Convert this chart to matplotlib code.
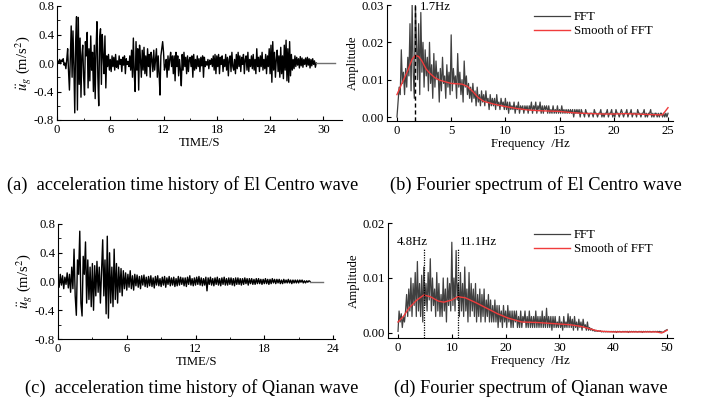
import numpy as np
import matplotlib
matplotlib.use('Agg')
from matplotlib import pyplot as plt

plt.rcParams['font.family'] = ['Liberation Serif', 'DejaVu Serif']
plt.rcParams['mathtext.fontset'] = 'stix'
plt.rcParams['font.size'] = 9.2
plt.rcParams['axes.unicode_minus'] = False
plt.rcParams['xtick.direction'] = 'in'
plt.rcParams['ytick.direction'] = 'in'

# El Centro acceleration (m/s^2), sampled every 0.1 s from 0 to 29.2 s, then a quiet tail
elc_dt = 0.1
elc_acc = [
    0.02, 0.03, 0.0, 0.05, -0.01, 0.04, 0.02, 0.06, -0.03, 0.0,
    -0.08, 0.05, 0.2, -0.12, -0.38, 0.1, 0.52, -0.2, 0.45, -0.05,
    -0.70, 0.3, 0.65, -0.66, 0.64, -0.3, 0.35, -0.48, 0.1, 0.25,
    -0.2, -0.45, 0.3, 0.1, 0.43, -0.35, 0.2, -0.25, 0.38, -0.1,
    0.15, -0.4, 0.25, -0.5, 0.2, 0.58, -0.2, -0.60, 0.35, 0.48,
    -0.3, 0.4, 0.1, -0.15, 0.38, -0.35, 0.1, -0.05, 0.12, -0.1,
    0.05, -0.12, 0.1, -0.05, 0.08, -0.1, 0.12, -0.06, 0.03, -0.08,
    0.1, -0.02, 0.05, -0.12, 0.08, -0.03, 0.1, -0.15, 0.06, -0.02,
    0.02, -0.05, 0.1, -0.1, 0.18, -0.2, 0.35, -0.15, -0.40, 0.3,
    -0.1, 0.2, -0.38, 0.25, 0.05, -0.2, 0.18, -0.1, 0.22, -0.15,
    0.1, -0.18, 0.2, -0.05, 0.12, -0.2, 0.15, 0.05, -0.12, 0.18,
    -0.1, 0.05, 0.2, -0.2, 0.1, -0.15, -0.45, 0.1, 0.2, 0.30,
    0.15, -0.1, -0.05, 0.05, -0.2, 0.1, -0.1, 0.05, 0.15, -0.05,
    0.1, -0.15, 0.1, -0.25, 0.15, -0.05, 0.1, -0.18, 0.05, -0.1,
    -0.32, 0.12, -0.1, 0.15, -0.05, 0.08, -0.15, 0.1, -0.12, 0.05,
    0.08, -0.05, 0.1, -0.2, 0.12, -0.1, 0.05, -0.08, 0.1, -0.05,
    0.06, -0.12, 0.08, -0.04, 0.1, -0.2, 0.08, -0.05, 0.02, -0.03,
    0.05, -0.08, 0.04, -0.02, 0.06, -0.05, 0.1, -0.1, 0.12, -0.15,
    0.1, -0.05, 0.12, -0.15, 0.08, -0.02, 0.1, -0.12, 0.05, -0.05,
    0.12, -0.1, 0.08, -0.18, 0.05, 0.1, -0.12, 0.15, -0.05, -0.1,
    0.05, -0.15, 0.12, -0.08, 0.15, -0.05, 0.1, -0.12, 0.08, -0.02,
    0.12, -0.15, 0.05, 0.1, -0.1, 0.15, -0.12, 0.05, -0.05, 0.1,
    -0.08, 0.12, -0.1, 0.05, -0.15, 0.2, -0.05, 0.08, -0.12, 0.1,
    -0.05, 0.15, -0.1, 0.05, -0.08, 0.12, -0.15, 0.1, -0.05, 0.2,
    -0.15, 0.25, -0.27, 0.3, -0.1, 0.15, -0.2, 0.05, 0.18, -0.12,
    0.1, -0.2, 0.22, -0.15, 0.1, -0.22, 0.25, -0.1, 0.32, -0.25,
    0.2, -0.27, 0.3, -0.18, 0.12, -0.1, 0.05, -0.08, 0.1, -0.05,
    0.08, -0.03, 0.06, -0.07, 0.09, -0.04, 0.07, -0.06, 0.05, -0.02,
    0.07, -0.05, 0.08, -0.03, 0.06, -0.07, 0.05, -0.04, 0.06, -0.02,
    0.03, -0.06, 0.0,
]
elc_end = 31.3

# Qianan acceleration (m/s^2), every 0.1 s from 0 to 22 s, then a quiet tail
qa_dt = 0.1
qa_acc = [
    0.05, -0.08, 0.1, -0.05, 0.08, -0.1, 0.06, -0.04, 0.12, -0.09,
    0.1, -0.15, 0.2, -0.1, 0.45, -0.2, -0.47, 0.3, 0.1, 0.70,
    -0.3, -0.48, 0.35, 0.1, 0.55, -0.3, 0.3, -0.25, 0.2, -0.35,
    0.25, -0.4, 0.22, -0.2, 0.28, -0.15, 0.2, -0.3, 0.15, 0.58,
    -0.2, 0.3, -0.45, 0.63, -0.51, 0.4, -0.3, 0.2, -0.35, 0.45,
    -0.25, 0.25, -0.3, 0.2, -0.15, 0.18, -0.2, 0.15, -0.1, 0.12,
    -0.12, 0.1, -0.08, 0.15, -0.1, 0.08, -0.12, 0.1, -0.06, 0.09,
    -0.08, 0.07, -0.1, 0.08, -0.05, 0.09, -0.07, 0.06, -0.08, 0.07,
    -0.06, 0.08, -0.07, 0.05, -0.09, 0.07, -0.05, 0.08, -0.06, 0.04,
    -0.07, 0.06, -0.05, 0.07, -0.08, 0.05, -0.04, 0.07, -0.06, 0.05,
    -0.05, 0.06, -0.07, 0.04, -0.06, 0.07, -0.05, 0.06, -0.04, 0.05,
    -0.06, 0.05, -0.07, 0.06, -0.04, 0.08, -0.05, 0.04, -0.06, 0.05,
    -0.05, 0.06, -0.04, 0.07, -0.05, 0.05, -0.06, 0.04, -0.05, 0.06,
    -0.13, 0.05, -0.04, 0.06, -0.05, 0.04, -0.06, 0.05, -0.04, 0.06,
    -0.05, 0.04, -0.06, 0.05, -0.04, 0.06, -0.05, 0.04, -0.05, 0.05,
    -0.04, 0.05, -0.05, 0.04, -0.06, 0.05, -0.04, 0.05, -0.04, 0.04,
    -0.05, 0.04, -0.04, 0.05, -0.03, 0.04, -0.05, 0.04, -0.03, 0.04,
    -0.04, 0.03, -0.04, 0.04, -0.03, 0.04, -0.03, 0.03, -0.04, 0.03,
    -0.03, 0.04, -0.03, 0.03, -0.04, 0.03, -0.03, 0.04, -0.02, 0.03,
    -0.03, 0.03, -0.02, 0.03, -0.03, 0.02, -0.03, 0.03, -0.02, 0.02,
    -0.02, 0.03, -0.02, 0.02, -0.03, 0.02, -0.02, 0.02, -0.02, 0.02,
    -0.02, 0.02, -0.01, 0.02, -0.02, 0.01, -0.02, 0.01, -0.01, 0.01,
    0.0,
]
qa_end = 23.1

# El Centro Fourier amplitude, every 0.1 Hz from 0 to 25 Hz
elc_df = 0.1
elc_fft = [
    0.000, 0.004, 0.008, 0.006, 0.018, 0.009, 0.012, 0.006, 0.013, 0.008,
    0.016, 0.011, 0.025, 0.007, 0.030, 0.012, 0.005, 0.030, 0.020, 0.010,
    0.025, 0.006, 0.028, 0.012, 0.020, 0.008, 0.018, 0.011, 0.016, 0.007,
    0.020, 0.009, 0.014, 0.005, 0.017, 0.008, 0.015, 0.010, 0.012, 0.004,
    0.013, 0.007, 0.016, 0.009, 0.011, 0.005, 0.014, 0.008, 0.012, 0.006,
    0.022, 0.007, 0.013, 0.009, 0.011, 0.005, 0.017, 0.008, 0.012, 0.006,
    0.010, 0.004, 0.015, 0.008, 0.011, 0.006, 0.009, 0.005, 0.008, 0.004,
    0.009, 0.005, 0.007, 0.003, 0.008, 0.004, 0.006, 0.003, 0.007, 0.004,
    0.006, 0.003, 0.007, 0.004, 0.005, 0.002, 0.006, 0.003, 0.005, 0.003,
    0.005, 0.002, 0.006, 0.003, 0.004, 0.002, 0.005, 0.003, 0.004, 0.002,
    0.005, 0.002, 0.004, 0.001, 0.004, 0.002, 0.003, 0.002, 0.004, 0.001,
    0.003, 0.002, 0.004, 0.001, 0.003, 0.002, 0.003, 0.001, 0.003, 0.002,
    0.003, 0.001, 0.003, 0.002, 0.004, 0.001, 0.003, 0.002, 0.004, 0.001,
    0.003, 0.002, 0.004, 0.001, 0.003, 0.001, 0.003, 0.002, 0.003, 0.001,
    0.003, 0.001, 0.002, 0.001, 0.003, 0.001, 0.002, 0.001, 0.003, 0.001,
    0.002, 0.001, 0.003, 0.001, 0.002, 0.001, 0.002, 0.001, 0.002, 0.001,
    0.002, 0.001, 0.002, 0.000, 0.002, 0.001, 0.002, 0.001, 0.002, 0.000,
    0.002, 0.001, 0.001, 0.000, 0.002, 0.001, 0.001, 0.000, 0.001, 0.001,
    0.001, 0.000, 0.002, 0.001, 0.001, 0.000, 0.001, 0.001, 0.002, 0.000,
    0.001, 0.000, 0.001, 0.001, 0.002, 0.000, 0.001, 0.001, 0.002, 0.000,
    0.001, 0.000, 0.002, 0.001, 0.001, 0.000, 0.001, 0.002, 0.001, 0.000,
    0.001, 0.001, 0.002, 0.000, 0.001, 0.001, 0.002, 0.000, 0.001, 0.001,
    0.001, 0.000, 0.002, 0.001, 0.001, 0.000, 0.001, 0.001, 0.002, 0.000,
    0.001, 0.000, 0.001, 0.001, 0.002, 0.000, 0.001, 0.000, 0.001, 0.001,
    0.000, 0.001, 0.000, 0.001, 0.001, 0.000, 0.001, 0.000, 0.001, 0.000,
    0.001,
]
elc_smooth_f = [0, 0.3, 1.0, 1.4, 1.7, 2.0, 2.3, 2.7, 3.0, 3.5, 4.0, 5.0, 6.0, 6.5,
                7.0, 7.5, 8.0, 9.0, 10, 11, 12, 13, 14, 15, 16, 17, 18, 19, 20,
                21, 22, 23, 24, 24.5, 25]
elc_smooth = [0.006, 0.008, 0.0125, 0.0155, 0.0165, 0.0162, 0.015, 0.0128, 0.0118,
              0.0105, 0.0098, 0.009, 0.0088, 0.0082, 0.0068, 0.0052, 0.0042, 0.0034,
              0.0028, 0.0023, 0.0019, 0.0017, 0.0016, 0.0015, 0.0012, 0.0010,
              0.0009, 0.0008, 0.0008, 0.0009, 0.0008, 0.0007, 0.0006, 0.0006, 0.0025]

# Qianan Fourier amplitude, every 0.2 Hz from 0 to 50 Hz
qa_df = 0.2
qa_fft = [
    0.0003, 0.004, 0.002, 0.0035, 0.001, 0.003, 0.002, 0.004, 0.007, 0.003,
    0.008, 0.004, 0.010, 0.003, 0.009, 0.005, 0.011, 0.003, 0.013, 0.004,
    0.009, 0.003, 0.0105, 0.002, 0.012, 0.005, 0.009, 0.004, 0.011, 0.006,
    0.0135, 0.004, 0.010, 0.005, 0.008, 0.003, 0.011, 0.004, 0.009, 0.003,
    0.007, 0.003, 0.010, 0.004, 0.008, 0.002, 0.010, 0.005, 0.009, 0.004,
    0.0165, 0.005, 0.010, 0.004, 0.015, 0.006, 0.009, 0.003, 0.011, 0.004,
    0.009, 0.003, 0.012, 0.004, 0.008, 0.002, 0.011, 0.003, 0.009, 0.004,
    0.008, 0.003, 0.009, 0.002, 0.007, 0.003, 0.008, 0.002, 0.007, 0.003,
    0.008, 0.002, 0.006, 0.003, 0.007, 0.002, 0.006, 0.002, 0.005, 0.002,
    0.006, 0.002, 0.005, 0.001, 0.005, 0.002, 0.004, 0.001, 0.005, 0.002,
    0.004, 0.001, 0.005, 0.002, 0.004, 0.001, 0.004, 0.001, 0.004, 0.002,
    0.004, 0.001, 0.003, 0.001, 0.004, 0.001, 0.003, 0.002, 0.004, 0.001,
    0.003, 0.001, 0.004, 0.001, 0.003, 0.001, 0.003, 0.001, 0.004, 0.001,
    0.003, 0.001, 0.003, 0.001, 0.004, 0.001, 0.003, 0.001, 0.0045, 0.001,
    0.003, 0.001, 0.003, 0.0005, 0.003, 0.001, 0.003, 0.001, 0.002, 0.001,
    0.003, 0.001, 0.002, 0.0005, 0.003, 0.001, 0.002, 0.001, 0.0035, 0.001,
    0.003, 0.001, 0.0025, 0.0005, 0.003, 0.001, 0.002, 0.0005, 0.0025, 0.001,
    0.002, 0.0005, 0.0025, 0.001, 0.0015, 0.0005, 0.002, 0.0005, 0.001, 0.0005,
    0.0008, 0.0004, 0.0006, 0.0003, 0.0005, 0.0003, 0.0004, 0.0003, 0.0004, 0.0002,
    0.0003, 0.0002, 0.0003, 0.0002, 0.0003, 0.0002, 0.0003, 0.0002, 0.0003, 0.0002,
    0.0003, 0.0002, 0.0003, 0.0001, 0.0003, 0.0002, 0.0003, 0.0002, 0.0002, 0.0003,
    0.0002, 0.0003, 0.0002, 0.0003, 0.0001, 0.0003, 0.0002, 0.0003, 0.0002, 0.0003,
    0.0002, 0.0003, 0.0002, 0.0002, 0.0003, 0.0002, 0.0003, 0.0001, 0.0003, 0.0002,
    0.0003, 0.0002, 0.0003, 0.0002, 0.0003, 0.0002, 0.0002, 0.0003, 0.0002, 0.0003,
    0.0002, 0.0003, 0.0002, 0.0003, 0.0002, 0.0002, 0.0001, 0.0002, 0.0004, 0.0005,
    0.0006,
]
qa_smooth_f = [0, 1, 2, 3.5, 4.8, 6, 7.5, 8.5, 10, 11.1, 12.5, 14.5, 16.5, 18.5,
               20.5, 23, 26, 29, 32, 34, 35.5, 37, 38, 40, 45, 48, 49, 50]
qa_smooth = [0.002, 0.003, 0.0045, 0.006, 0.0069, 0.0066, 0.0058, 0.0056, 0.006,
             0.0066, 0.0064, 0.0055, 0.0045, 0.0035, 0.0027, 0.002, 0.0019, 0.0017,
             0.0015, 0.0012, 0.0008, 0.0004, 0.0003, 0.0002, 0.0002, 0.0002, 0.0, 0.0005]

fft_color = '#404040'
smooth_color = '#f03c3c'
ylabel_acc = r'$\ddot{u}_g$ (m/s$^2$)'

fig = plt.figure(figsize=(7.19, 4.12), dpi=100)
W, H = 719.0, 412.0


def add_ax(left, right, top, bottom):
    ax = fig.add_axes([left / W, 1 - bottom / H, (right - left) / W, (bottom - top) / H])
    ax.spines['top'].set_visible(False)
    ax.spines['right'].set_visible(False)
    ax.tick_params(length=3, width=0.8, pad=2)
    ax.tick_params(axis='x', pad=3)
    ax.tick_params(which='minor', length=1.8, width=0.6)
    return ax


def plot_acc(ax, dt, acc, t_end, xmax, xticks):
    t = np.arange(len(acc)) * dt
    ax.plot(t, acc, color='black', lw=1.0)
    ax.plot([t[-1], t_end], [acc[-1], 0.0], color='#707070', lw=1.0)
    ax.set_xlim(0, xmax)
    ax.set_ylim(-0.8, 0.8)
    ax.set_xticks(xticks)
    ax.set_xticks(np.array(xticks[:-1]) + (xticks[1] - xticks[0]) / 2, minor=True)
    ax.set_yticks([-0.8, -0.4, 0.0, 0.4, 0.8])
    ax.set_yticks([-0.6, -0.2, 0.2, 0.6], minor=True)
    ax.set_xlabel('TIME/S', labelpad=0.5)
    ax.set_ylabel(ylabel_acc, labelpad=0, fontsize=10.5)


def plot_fft(ax, df, amp, sf, sv, xlim, ylim, xticks, yticks):
    f = np.arange(len(amp)) * df
    ax.plot(f, amp, color=fft_color, lw=0.9, label='FFT')
    ax.plot(sf, sv, color=smooth_color, lw=1.0, label='Smooth of FFT')
    ax.set_xlim(*xlim)
    ax.set_ylim(*ylim)
    ax.set_xticks(xticks)
    ax.set_yticks(yticks)
    ax.yaxis.set_major_formatter(matplotlib.ticker.FormatStrFormatter('%.2f'))
    ax.set_xlabel('Frequency  /Hz', labelpad=0.5)
    ax.set_ylabel('Amplitude', labelpad=2)
    ax.legend(loc='upper right', frameon=False, handlelength=2.8, handletextpad=0.3,
              labelspacing=0.15, borderaxespad=0.1, bbox_to_anchor=(0.95, 1.0))


ax1 = add_ax(57, 342, 6, 120)
plot_acc(ax1, elc_dt, elc_acc, elc_end, 32.1, [0, 6, 12, 18, 24, 30])

ax2 = add_ax(387, 673, 5, 121)
plot_fft(ax2, elc_df, elc_fft, elc_smooth_f, elc_smooth, (-0.92, 25.46), (-0.00107, 0.030),
         [0, 5, 10, 15, 20, 25], [0.0, 0.01, 0.02, 0.03])
ax2.plot([1.7, 1.7], [-0.00107, 0.030], color='black', lw=1.0, ls=(0, (3, 2)))
ax2.text(2.1, 0.0295, '1.7Hz', ha='left', va='center')

ax3 = add_ax(58, 335, 224, 339)
plot_acc(ax3, qa_dt, qa_acc, qa_end, 24.17, [0, 6, 12, 18, 24])

ax4 = add_ax(388, 673, 223, 338)
plot_fft(ax4, qa_df, qa_fft, qa_smooth_f, qa_smooth, (-1.86, 51.1), (-0.00091, 0.020),
         [0, 10, 20, 30, 40, 50], [0.0, 0.01, 0.02])
for fpk in [4.8, 11.1]:
    ax4.plot([fpk, fpk], [-0.00091, 0.0152], color='black', lw=0.9, ls=(0, (1, 1)))
ax4.text(2.6, 0.0166, '4.8Hz', ha='center', va='center')
ax4.text(11.5, 0.0166, '11.1Hz', ha='left', va='center')

cap = 13.2
fig.text(7 / W, 1 - 185 / H, '(a)  acceleration time history of El Centro wave', fontsize=cap, va='center')
fig.text(390 / W, 1 - 185 / H, '(b) Fourier spectrum of El Centro wave', fontsize=cap, va='center')
fig.text(25 / W, 1 - 388 / H, '(c)  acceleration time history of Qianan wave', fontsize=cap, va='center')
fig.text(394 / W, 1 - 388 / H, '(d) Fourier spectrum of Qianan wave', fontsize=cap, va='center')

fig.savefig('out.png', dpi=100)
